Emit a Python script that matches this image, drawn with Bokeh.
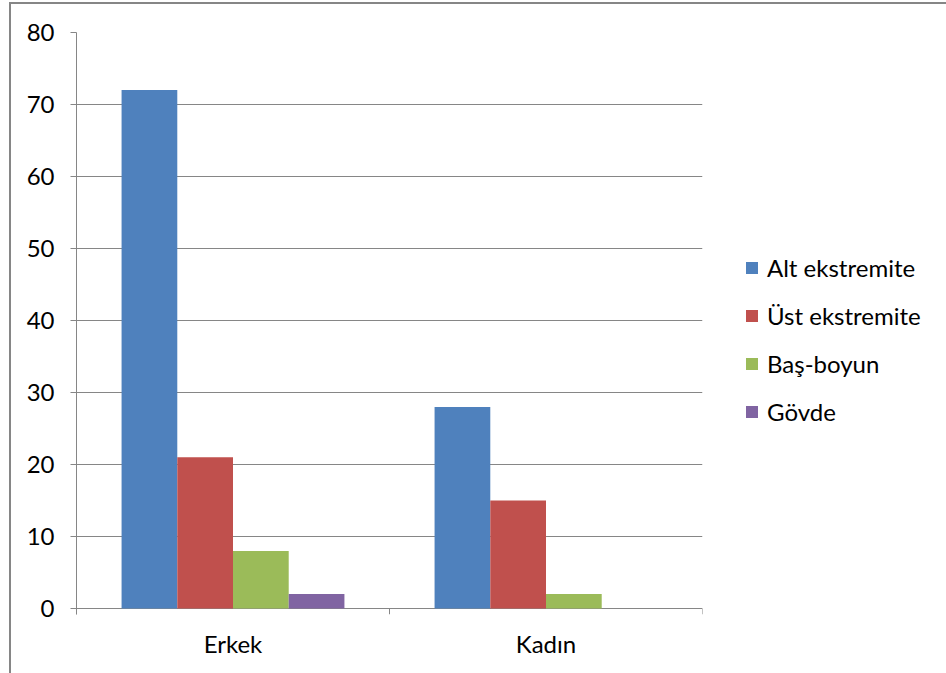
from bokeh.plotting import figure
from bokeh.models import Range1d, FixedTicker, Legend, LegendItem
from bokeh.embed import file_html
from bokeh.resources import INLINE

# ---- data ----
categories = ["Erkek", "Kadın"]
series_names = ["Alt ekstremite", "Üst ekstremite", "Baş-boyun", "Gövde"]
alt_ekstremite = [72, 28]
ust_ekstremite = [21, 15]
bas_boyun = [8, 2]
govde = [2, 0]
y_ticks = [0, 10, 20, 30, 40, 50, 60, 70, 80]

series_values = [alt_ekstremite, ust_ekstremite, bas_boyun, govde]
colors = ["#4F81BD", "#C0504D", "#9BBB59", "#8064A2"]

FONT = "Lato"
FSIZE = "24px"
GRAY = "#868686"

# frame geometry: 80 units over 576 px -> tick of 6 px below zero
px_per_unit = 576 / 80.0
tick_len = 6 / px_per_unit

p = figure(frame_width=626, frame_height=582,
           x_range=Range1d(0, len(categories)),
           y_range=Range1d(-tick_len, y_ticks[-1]),
           output_backend="svg", toolbar_location=None,
           min_border_left=65, min_border_right=0,
           min_border_top=28, min_border_bottom=59)
p.styles = {"margin-left": "9px", "margin-top": "2px",
            "border-left": f"2px solid {GRAY}", "border-top": f"2px solid {GRAY}"}
p.outline_line_color = None
p.background_fill_color = "white"
p.border_fill_color = "white"

# grid
p.xgrid.visible = False
p.ygrid.ticker = FixedTicker(ticks=y_ticks)
p.ygrid.grid_line_color = GRAY
p.ygrid.grid_line_width = 1

# y axis
ya = p.yaxis[0]
ya.ticker = FixedTicker(ticks=y_ticks)
ya.axis_line_color = GRAY
ya.major_tick_line_color = GRAY
ya.major_tick_out = 6
ya.major_tick_in = 0
ya.minor_tick_line_color = None
ya.major_label_text_font = FONT
ya.major_label_text_font_size = FSIZE
ya.major_label_text_color = "black"
ya.major_label_standoff = 16

# x axis (labels at category centers)
xa = p.xaxis[0]
centers = [i + 0.5 for i in range(len(categories))]
xa.ticker = FixedTicker(ticks=centers)
xa.major_label_overrides = {c: cat for c, cat in zip(centers, categories)}
xa.axis_line_color = None
xa.major_tick_line_color = None
xa.major_tick_out = 0
xa.major_tick_in = 0
xa.minor_tick_line_color = None
xa.major_label_text_font = FONT
xa.major_label_text_font_size = FSIZE
xa.major_label_text_color = "black"
xa.major_label_standoff = 14

# category boundary tick marks
bounds = list(range(len(categories) + 1))
p.segment(x0=bounds, y0=[0] * len(bounds), x1=bounds, y1=[-tick_len] * len(bounds),
          line_color=GRAY, line_width=1)

# bars
n = len(series_names)
bar_w = 0.178
renderers = []
for k, (name, vals, col) in enumerate(zip(series_names, series_values, colors)):
    off = (k - (n - 1) / 2.0) * bar_w
    xs = [c + off for c in centers]
    r = p.vbar(x=xs, top=vals, bottom=0, width=bar_w, fill_color=col, line_color=None)
    renderers.append(r)

legend = Legend(items=[LegendItem(label=nm, renderers=[r]) for nm, r in zip(series_names, renderers)],
                location=(42, 188))
legend.glyph_width = 15
legend.glyph_height = 15
legend.label_standoff = 8
legend.spacing = 19
legend.padding = 0
legend.margin = 0
legend.label_height = 24
legend.border_line_color = None
legend.background_fill_alpha = 0
legend.label_text_font = FONT
legend.label_text_font_size = FSIZE
legend.label_text_color = "black"
p.add_layout(legend, "right")

open("out.html", "w").write(file_html(p, INLINE))
